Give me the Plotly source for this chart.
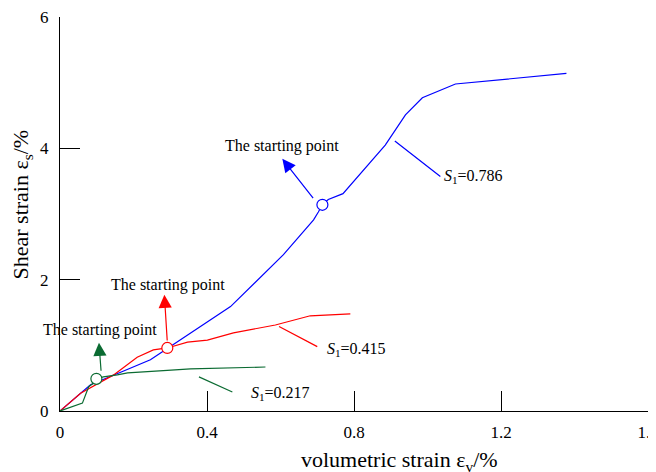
import plotly.graph_objects as go

# ---- data ----
blue_x = [0, 0.083, 0.165, 0.246, 0.292, 0.35, 0.464, 0.608, 0.69, 0.703, 0.714, 0.73, 0.77, 0.885, 0.94, 0.986, 1.076, 1.378]
blue_y = [0, 0.40, 0.59, 0.78, 0.95, 1.17, 1.59, 2.38, 2.91, 3.03, 3.14, 3.22, 3.31, 4.05, 4.51, 4.77, 4.98, 5.14]

red_x = [0, 0.056, 0.146, 0.21, 0.254, 0.292, 0.347, 0.401, 0.472, 0.586, 0.681, 0.79]
red_y = [0, 0.27, 0.55, 0.82, 0.93, 0.96, 1.05, 1.08, 1.19, 1.31, 1.45, 1.48]

green_x = [0, 0.061, 0.078, 0.088, 0.099, 0.118, 0.156, 0.184, 0.292, 0.355, 0.559]
green_y = [0, 0.12, 0.37, 0.41, 0.49, 0.52, 0.55, 0.58, 0.62, 0.64, 0.67]

start_x = [0.714, 0.292, 0.099]
start_y = [3.14, 0.96, 0.49]

series_names = ["S1=0.786", "S1=0.415", "S1=0.217"]
label_text = ["<i>S</i><sub>1</sub>=0.786", "<i>S</i><sub>1</sub>=0.415", "<i>S</i><sub>1</sub>=0.217"]

x_ticks = [0, 0.4, 0.8, 1.2, 1.6]
x_ticktext = ["0", "0.4", "0.8", "1.2", "1.6"]
y_ticks = [0, 2, 4, 6]
y_ticktext = ["0", "2", "4", "6"]

colors = ["#0000FF", "#FF0000", "#0B6B32"]
FONT = "Liberation Serif"

fig = go.Figure()
for xs, ys, c, n in zip([blue_x, red_x, green_x], [blue_y, red_y, green_y], colors, series_names):
    fig.add_trace(go.Scatter(x=xs, y=ys, mode="lines", line=dict(color=c, width=1.2),
                             name=n, showlegend=False, hoverinfo="skip"))

# starting-point circles
fig.add_trace(go.Scatter(x=start_x, y=start_y, mode="markers", showlegend=False,
                         marker=dict(symbol="circle", size=11, color="white",
                                     line=dict(color=colors, width=1.2)),
                         hoverinfo="skip"))

annotations = []
# arrows pointing to "The starting point" labels (tail at circle, head away)
arrow_tails = [(0.692, 3.22), (0.292, 1.05), (0.112, 0.59)]
arrow_heads = [(0.605, 3.84), (0.284, 1.77), (0.106, 1.04)]
label_pos = [(0.603, 4.04), (0.295, 1.92), (0.110, 1.24)]
for (tx, ty), (hx, hy), (lx, ly), c in zip(arrow_tails, arrow_heads, label_pos, colors):
    annotations.append(dict(x=hx, y=hy, ax=tx, ay=ty, xref="x", yref="y", axref="x", ayref="y",
                            showarrow=True, arrowhead=2, arrowsize=2.2, arrowwidth=1.2,
                            arrowcolor=c, text=""))
    annotations.append(dict(x=lx, y=ly, xref="x", yref="y", text="The starting point",
                            showarrow=False, font=dict(family=FONT, size=16, color="black")))

# leader lines and S1 labels
lead_from = [(0.907, 4.13), (0.592, 1.30), (0.374, 0.53)]
lead_to = [(1.035, 3.57), (0.70, 0.98), (0.469, 0.29)]
s_pos = [(1.04, 3.57), (0.72, 0.93), (0.513, 0.27)]
for (fx, fy), (tx, ty), (sx, sy), c, t in zip(lead_from, lead_to, s_pos, colors, label_text):
    annotations.append(dict(x=tx, y=ty, ax=fx, ay=fy, xref="x", yref="y", axref="x", ayref="y",
                            showarrow=True, arrowhead=0, arrowwidth=1.2, arrowcolor=c, text="",
                            standoff=0, startstandoff=0))
    annotations.append(dict(x=sx, y=sy, xref="x", yref="y", text=t, showarrow=False,
                            xanchor="left", font=dict(family=FONT, size=16, color="black")))

# axis titles
annotations.append(dict(x=0.577, y=-0.127, xref="paper", yref="paper",
                        xanchor="center", yanchor="middle",
                        text="volumetric strain ε<sub>v</sub>/%", showarrow=False,
                        font=dict(family=FONT, size=22, color="black")))
annotations.append(dict(x=-0.064, y=0.525, xref="paper", yref="paper",
                        xanchor="center", yanchor="middle",
                        text="Shear strain ε<sub>s</sub>/%", showarrow=False, textangle=-90,
                        font=dict(family=FONT, size=22, color="black")))

# page body adds an 8px offset, so margins are shifted to compensate
fig.update_layout(
    width=656, height=472,
    margin=dict(l=52, r=16, t=9, b=69),
    paper_bgcolor="white", plot_bgcolor="white",
    font=dict(family=FONT, size=17, color="black"),
    annotations=annotations,
    xaxis=dict(range=[0, 1.6], tickvals=x_ticks, ticktext=x_ticktext, ticks="inside",
               ticklen=20, tickwidth=1, tickcolor="black", showline=True, linecolor="black",
               linewidth=1.3, showgrid=False, zeroline=False, mirror=False, automargin=False,
               tickfont=dict(family=FONT, size=17, color="black"), ticklabelstandoff=5,
               ticklabeloverflow="allow"),
    yaxis=dict(range=[0, 6], tickvals=y_ticks, ticktext=y_ticktext, ticks="inside",
               ticklen=20, tickwidth=1, tickcolor="black", showline=True, linecolor="black",
               linewidth=1.3, showgrid=False, zeroline=False, mirror=False, automargin=False,
               tickfont=dict(family=FONT, size=17, color="black"), ticklabelstandoff=7,
               ticklabeloverflow="allow"),
)

fig.write_html("out.html")
